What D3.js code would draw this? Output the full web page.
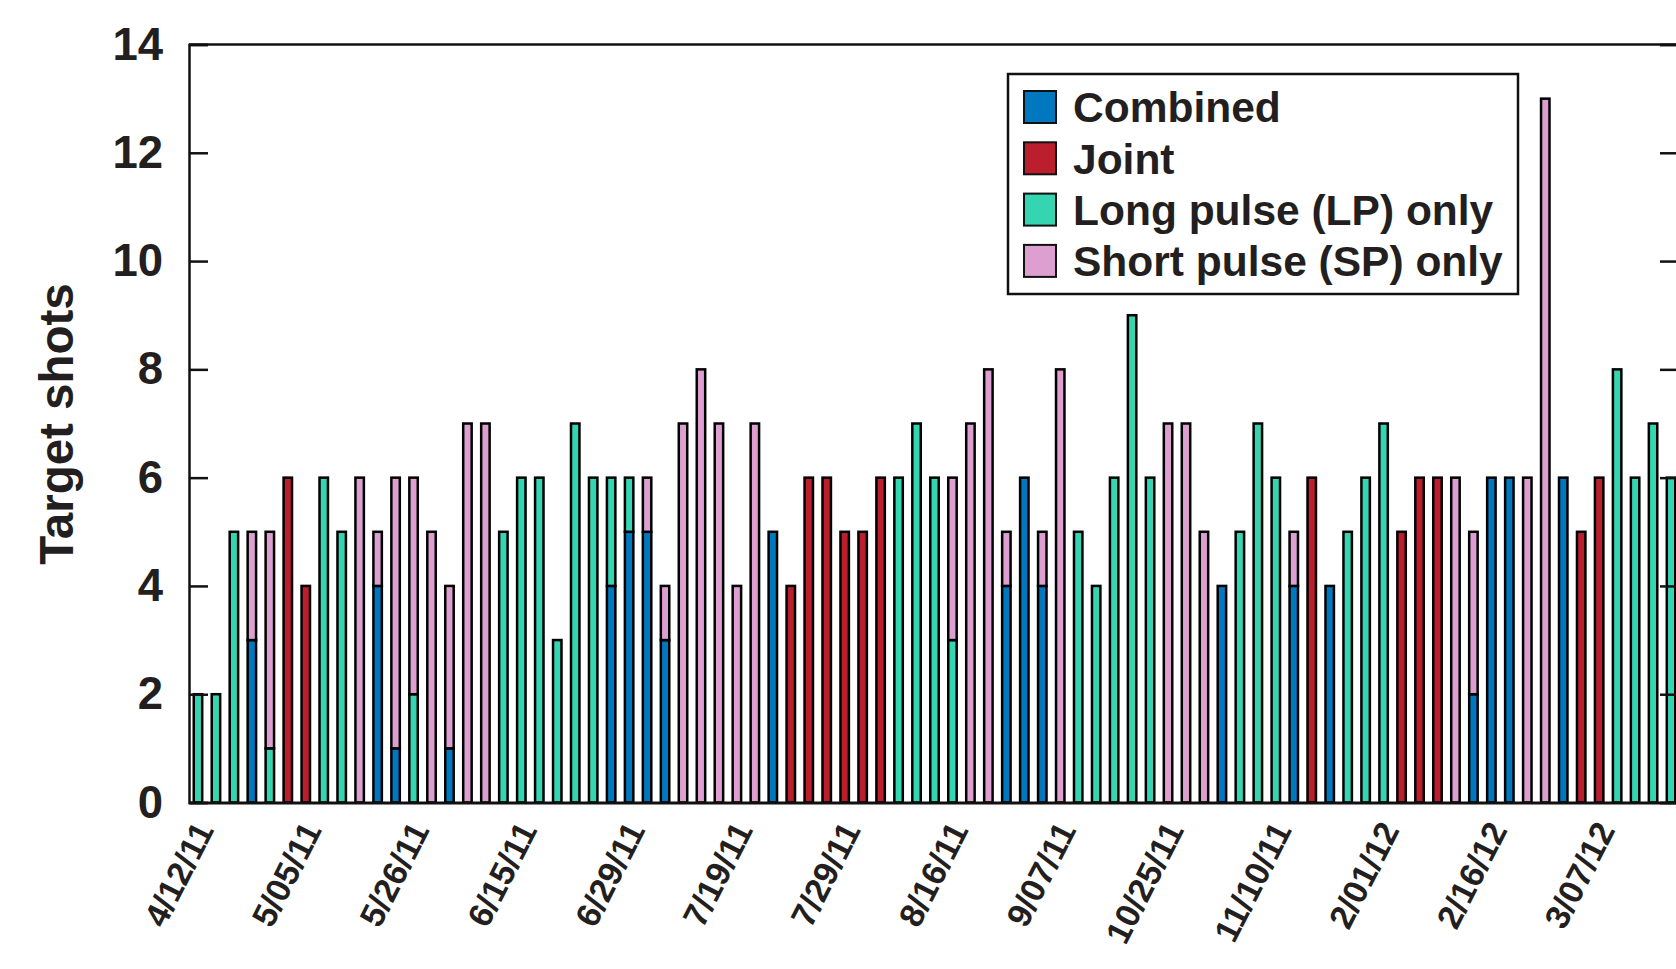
<!DOCTYPE html>
<html>
<head>
<meta charset="utf-8">
<script src="https://cdn.jsdelivr.net/npm/d3@7"></script>
<style>
  body { margin: 0; background: #fff; }
  text { font-family: "Liberation Sans", Arial, Helvetica, sans-serif; font-weight: bold; fill: #231f20; }
</style>
</head>
<body>
<div id="app"></div>
<script>
// shots per day, one entry per shot day (83 days)
var combined = [0,0,0,3,0,0,0,0,0,0,4,1,0,0,1,0,0,0,0,0,0,0,0,4,5,5,3,0,0,0,0,0,5,0,0,0,0,0,0,0,0,0,0,0,0,4,6,4,0,0,0,0,0,0,0,0,0,4,0,0,0,4,0,4,0,0,0,0,0,0,0,2,6,6,0,0,6,0,0,0,0,0,0]
var joint = [0,0,0,0,0,6,4,0,0,0,0,0,0,0,0,0,0,0,0,0,0,0,0,0,0,0,0,0,0,0,0,0,0,4,6,6,5,5,6,0,0,0,0,0,0,0,0,0,0,0,0,0,0,0,0,0,0,0,0,0,0,0,6,0,0,0,0,5,6,6,0,0,0,0,0,0,0,5,6,0,0,0,0]
var longPulse = [2,2,5,0,1,0,0,6,5,0,0,0,2,0,0,0,0,5,6,6,3,7,6,2,1,0,0,0,0,0,0,0,0,0,0,0,0,0,0,6,7,6,3,0,0,0,0,0,0,5,4,6,9,6,0,0,0,0,5,7,6,0,0,0,5,6,7,0,0,0,0,0,0,0,0,0,0,0,0,8,6,7,6]
var shortPulse = [0,0,0,2,4,0,0,0,0,6,1,5,4,5,3,7,7,0,0,0,0,0,0,0,0,1,1,7,8,7,4,7,0,0,0,0,0,0,0,0,0,0,3,7,8,1,0,1,8,0,0,0,0,0,7,7,5,0,0,0,0,1,0,0,0,0,0,0,0,0,6,3,0,0,6,13,0,0,0,0,0,0,0]

// labelled dates, one every sixth shot day
var dateLabels = ['4/12/11','5/05/11','5/26/11','6/15/11','6/29/11','7/19/11','7/29/11','8/16/11','9/07/11','10/25/11','11/10/11','2/01/12','2/16/12','3/07/12']
var seriesNames = ['Combined', 'Joint', 'Long pulse (LP) only', 'Short pulse (SP) only']
var yTicks = [0, 2, 4, 6, 8, 10, 12, 14]

var color = d3.scaleOrdinal()
  .domain(['combined', 'joint', 'longPulse', 'shortPulse'])
  .range(['#0078c0', '#bb1f2e', '#36d5b1', '#dc9fd0'])

var width = 1676, height = 969
var margin = { top: 44.5, left: 189, right: 1680, bottom: 802.5 }

var data = combined.map(function (c, i) {
  return { idx: i, combined: c, joint: joint[i], longPulse: longPulse[i], shortPulse: shortPulse[i] }
})

var stack = d3.stack().keys(['combined', 'joint', 'longPulse', 'shortPulse'])
var series = stack(data)

var x = d3.scaleBand()
  .domain(data.map(function (d) { return d.idx }))
  .range([margin.left, margin.right])
  .paddingInner(0.53)
  .paddingOuter(0.265)

var y = d3.scaleLinear()
  .domain([0, 14])
  .range([margin.bottom, margin.top])

var svg = d3.select('#app')
  .append('svg')
  .attr('width', width)
  .attr('height', height)

// bars
svg.append('g')
  .selectAll('g')
  .data(series)
  .enter()
  .append('g')
  .attr('fill', function (s) { return color(s.key) })
  .selectAll('rect')
  .data(function (s) { return s.filter(function (d) { return d[1] - d[0] > 0 }) })
  .enter()
  .append('rect')
  .attr('x', function (d) { return x(d.data.idx) })
  .attr('width', x.bandwidth())
  .attr('y', function (d) { return y(d[1]) })
  .attr('height', function (d) { return y(d[0]) - y(d[1]) })
  .attr('stroke', '#000')
  .attr('stroke-width', 2.5)

// left axis, ticks inside
var yAxis = d3.axisLeft(y).tickValues(yTicks).tickSize(-19).tickPadding(26).tickFormat(d3.format('d'))
var gy = svg.append('g')
  .attr('transform', 'translate(' + margin.left + ',0)')
  .call(yAxis)
gy.select('.domain').attr('stroke', '#111').attr('stroke-width', 2.5)
gy.selectAll('.tick line').attr('stroke', '#111').attr('stroke-width', 2.5)
gy.selectAll('.tick text')
  .attr('x', -26)
  .style('font-size', '45.5px')
  .style('font-family', '"Liberation Sans", Arial, sans-serif')
  .style('font-weight', 'bold')
  .attr('fill', '#231f20')

// right axis, ticks only
var gr = svg.append('g')
  .attr('transform', 'translate(' + (margin.right - 1) + ',0)')
  .call(d3.axisRight(y).tickValues(yTicks).tickSize(-19).tickFormat(''))
gr.select('.domain').attr('stroke', '#111').attr('stroke-width', 2.5)
gr.selectAll('.tick line').attr('stroke', '#111').attr('stroke-width', 2.5)

// top frame
svg.append('line')
  .attr('x1', margin.left).attr('x2', width)
  .attr('y1', margin.top).attr('y2', margin.top)
  .attr('stroke', '#111').attr('stroke-width', 2.5)

// bottom axis
var xAxis = d3.axisBottom(x)
  .tickValues(dateLabels.map(function (l, i) { return i * 6 }))
  .tickSize(0)
  .tickFormat(function (d) { return dateLabels[d / 6] })
var gx = svg.append('g')
  .attr('transform', 'translate(0,' + margin.bottom + ')')
  .call(xAxis)
gx.select('.domain').attr('stroke', '#111').attr('stroke-width', 3)
gx.selectAll('.tick text')
  .attr('text-anchor', 'end')
  .attr('transform', 'translate(6,22) rotate(-63)')
  .attr('y', 0)
  .attr('dy', '0.35em')
  .style('font-size', '34px')
  .style('font-family', '"Liberation Sans", Arial, sans-serif')
  .style('font-weight', 'bold')
  .attr('fill', '#231f20')

// y axis title
svg.append('text')
  .attr('transform', 'translate(73,424) rotate(-90)')
  .attr('text-anchor', 'middle')
  .style('font-size', '47.5px')
  .text('Target shots')

// legend
var legend = svg.append('g')
legend.append('rect')
  .attr('x', 1008).attr('y', 74)
  .attr('width', 510).attr('height', 220)
  .attr('fill', '#fff')
  .attr('stroke', '#111').attr('stroke-width', 2.5)

var item = legend.selectAll('.item')
  .data(seriesNames)
  .enter()
  .append('g')
  .attr('class', 'item')
  .attr('transform', function (d, i) { return 'translate(1024,' + (107 + i * 51.3) + ')' })

item.append('rect')
  .attr('x', 0).attr('y', -16)
  .attr('width', 32).attr('height', 32)
  .attr('fill', function (d, i) { return color.range()[i] })
  .attr('stroke', '#111').attr('stroke-width', 2)

item.append('text')
  .attr('x', 49)
  .attr('dy', '0.36em')
  .style('font-size', '42.5px')
  .text(function (d) { return d })
</script>
</body>
</html>
